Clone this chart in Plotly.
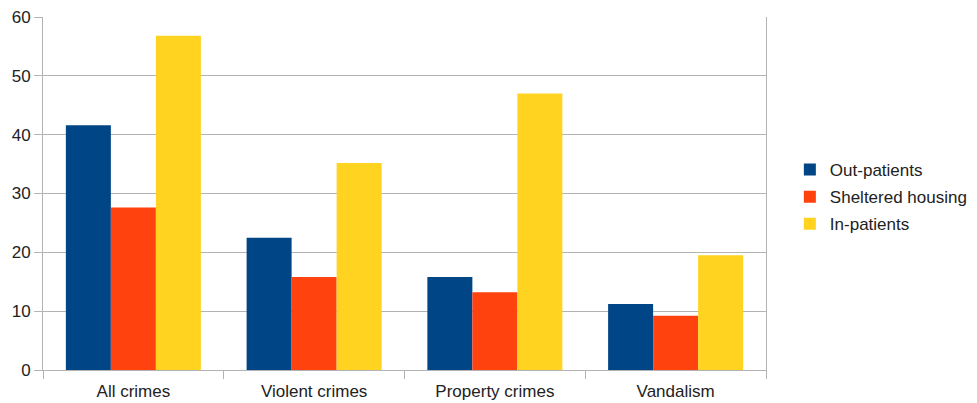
import plotly.graph_objects as go

categories = ["All crimes", "Violent crimes", "Property crimes", "Vandalism"]
out_patients = [41.6, 22.5, 15.8, 11.2]
sheltered_housing = [27.6, 15.8, 13.2, 9.2]
in_patients = [56.8, 35.2, 47.0, 19.5]
series_names = ["Out-patients", "Sheltered housing", "In-patients"]
series_colors = ["#004586", "#ff420e", "#ffd320"]
y_ticks = [0, 10, 20, 30, 40, 50, 60]

fig = go.Figure()
for name, vals, color in zip(series_names, [out_patients, sheltered_housing, in_patients], series_colors):
    fig.add_trace(go.Bar(
        x=categories, y=vals, name=name, legendgroup=name,
        marker=dict(color=color, line=dict(width=0)),
    ))

grid = "#b3b3b3"
fig.update_layout(
    width=977, height=403,
    margin=dict(l=43, r=211, t=17, b=33, autoexpand=False),
    paper_bgcolor="white", plot_bgcolor="white",
    barmode="group", bargap=0.253, bargroupgap=0,
    font=dict(family="Liberation Sans, Arial, sans-serif", size=17, color="#222222"),
    legend=dict(x=1.033, xanchor="left", y=0.49, yanchor="middle",
                font=dict(size=17), tracegroupgap=2, itemwidth=30),
    showlegend=True,
)
fig.update_xaxes(
    type="category", showline=True, linecolor=grid, linewidth=1,
    ticks="outside", tickson="boundaries", ticklen=8, tickcolor=grid,
    showgrid=False, ticklabelstandoff=6, automargin=False,
)
fig.update_yaxes(
    range=[0, 60], tickvals=y_ticks, showgrid=True, gridcolor=grid, gridwidth=1,
    showline=True, linecolor=grid, linewidth=1, mirror=True,
    ticks="outside", ticklen=8, tickcolor=grid, zeroline=False, automargin=False,
)

fig.write_html("out.html")
